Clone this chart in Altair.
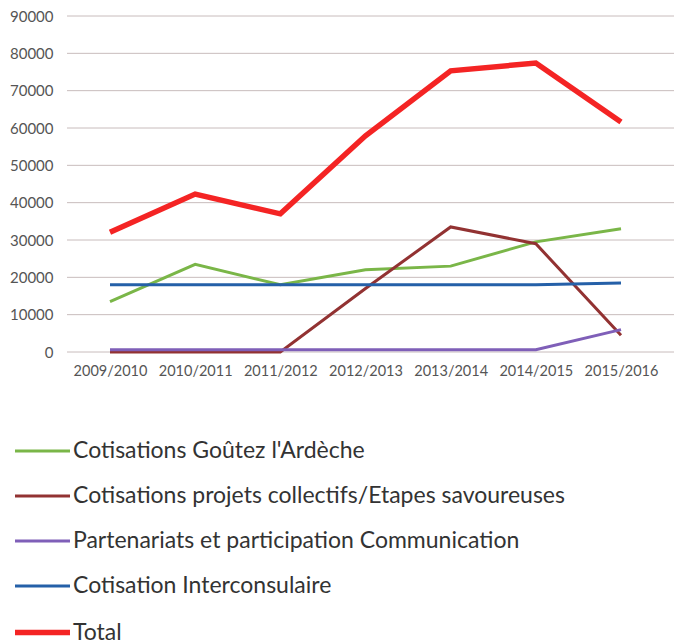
import altair as alt
import pandas as pd

years = ["2009/2010", "2010/2011", "2011/2012", "2012/2013", "2013/2014", "2014/2015", "2015/2016"]
series_names = [
    "Cotisations Goûtez l'Ardèche",
    "Cotisations projets collectifs/Etapes savoureuses",
    "Partenariats et participation Communication",
    "Cotisation Interconsulaire",
    "Total",
]
goutez = [13500, 23500, 18000, 22000, 23000, 29500, 33000]
projets = [0, 0, 0, 17000, 33500, 29000, 4500]
partenariats = [600, 600, 600, 600, 600, 600, 6000]
interconsulaire = [18000, 18000, 18000, 18000, 18000, 18000, 18500]
total = [32100, 42300, 37000, 57900, 75300, 77400, 61600]
y_ticks = [0, 10000, 20000, 30000, 40000, 50000, 60000, 70000, 80000, 90000]
colors = ["#7ab648", "#923232", "#7f5fb8", "#2560a8", "#f42424"]
widths = [3, 3, 3, 3, 5.5]

values = [goutez, projets, partenariats, interconsulaire, total]
rows = []
for si, (name, vals) in enumerate(zip(series_names, values)):
    for y, v in zip(years, vals):
        rows.append({"year": y, "value": v, "series": name, "order": si})
df = pd.DataFrame(rows)
grid_df = pd.DataFrame({"tick": y_ticks})

font = "Lato"
W, H = 607, 336

yscale = alt.Scale(domain=[0, 90000])
yaxis = alt.Axis(
    title=None, values=y_ticks, format="d", ticks=False, domain=False,
    grid=False, labelFont=font, labelFontSize=15, labelColor="#555555",
    labelPadding=14,
)

grid = (
    alt.Chart(grid_df)
    .mark_rule(color="#c8bcbc", strokeWidth=1)
    .encode(
        y=alt.Y("tick:Q", scale=yscale, axis=yaxis),
        x=alt.value(0),
        x2=alt.value(W),
    )
)

legend = alt.Legend(
    title=None, orient="none", legendX=-55, legendY=406, direction="vertical",
    symbolType="stroke", symbolSize=3025, labelFont=font, labelFontSize=23,
    labelColor="#333333", labelOffset=0, rowPadding=4, labelLimit=0,
)

lines = (
    alt.Chart(df)
    .mark_line()
    .encode(
        x=alt.X(
            "year:N",
            sort=years,
            scale=alt.Scale(type="point", range=[43, 554], padding=0),
            axis=alt.Axis(
                title=None, labelAngle=0, ticks=False, domain=False, grid=False,
                labelFont=font, labelFontSize=14.5, labelColor="#555555", labelPadding=12,
            ),
        ),
        y=alt.Y("value:Q", scale=yscale, axis=yaxis),
        color=alt.Color(
            "series:N",
            sort=series_names,
            scale=alt.Scale(type="ordinal", domain=series_names, range=colors),
            legend=legend,
        ),
        strokeWidth=alt.StrokeWidth(
            "series:N",
            sort=series_names,
            scale=alt.Scale(type="ordinal", domain=series_names, range=widths),
            legend=legend,
        ),
        detail="series:N",
    )
)

chart = (
    alt.layer(grid, lines)
    .properties(
        width=W, height=H,
        autosize=alt.AutoSizeParams(type="none"),
        padding={"left": 67, "top": 16, "right": 0, "bottom": 291},
        background="white",
    )
    .configure_view(stroke=None)
)

chart.save("out.html", embed_options={"renderer": "svg", "actions": False})
